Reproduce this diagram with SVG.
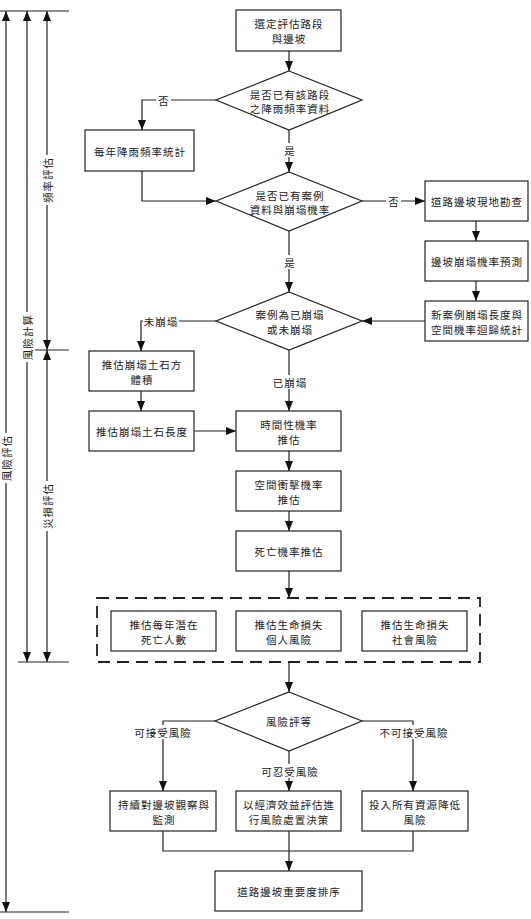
<svg xmlns="http://www.w3.org/2000/svg" width="531" height="919" viewBox="0 0 531 919">
<style>
.b{fill:#fff;stroke:#222;stroke-width:1.2}
.l{fill:none;stroke:#222;stroke-width:1.2}
.a{marker-end:url(#ah)}
.t{font-family:"Noto Sans CJK TC","Noto Sans CJK SC",sans-serif;font-size:10.5px;letter-spacing:1px;fill:#222;text-anchor:middle;dominant-baseline:central}
.bg{fill:#fff}
</style>
<defs>
<marker id="ah" markerUnits="userSpaceOnUse" markerWidth="10" markerHeight="10" viewBox="0 0 10 10" refX="10" refY="5" orient="auto">
<path d="M0,1 L10,5 L0,9 Z" fill="#111"/>
</marker>
</defs>
<rect width="531" height="919" fill="#fff"/>

<g id="scale">
<path class="l" d="M0,11 H69 M35,350 H69 M18,662 H69 M0,912 H69"/>
<path class="l a" d="M6,100 V11"/>
<path class="l a" d="M6,100 V912"/>
<path class="l a" d="M27,100 V11"/>
<path class="l a" d="M27,100 V662"/>
<path class="l a" d="M47,100 V11"/>
<path class="l a" d="M47,100 V350"/>
<path class="l a" d="M47,500 V350"/>
<path class="l a" d="M47,500 V662"/>
<rect class="bg" x="40" y="155" width="14" height="50"/>
<text class="t" transform="translate(47,180) rotate(-90)">頻率評估</text>
<rect class="bg" x="20" y="312" width="14" height="50"/>
<text class="t" transform="translate(27,337) rotate(-90)">風險計算</text>
<rect class="bg" x="0" y="433" width="13" height="50"/>
<text class="t" transform="translate(6,458) rotate(-90)">風險評估</text>
<rect class="bg" x="40" y="481" width="14" height="50"/>
<text class="t" transform="translate(47,506) rotate(-90)">災損評估</text>
</g>

<g id="connectors">
<path class="l a" d="M289,51 V71"/>
<path class="l a" d="M216,100 H142 V130"/>
<path class="l a" d="M289,130 V172"/>
<path class="l a" d="M142,171 V201 H216"/>
<path class="l a" d="M362,201 H425"/>
<path class="l a" d="M476,221 V241"/>
<path class="l a" d="M476,281 V301"/>
<path class="l a" d="M425,321 H362"/>
<path class="l a" d="M289,231 V292"/>
<path class="l a" d="M216,321 H141 V351"/>
<path class="l a" d="M141,391 V411"/>
<path class="l a" d="M194,431 H236"/>
<path class="l a" d="M289,350 V411"/>
<path class="l a" d="M289,451 V471"/>
<path class="l a" d="M289,511 V531"/>
<path class="l a" d="M289,571 V598"/>
<path class="l a" d="M289,662 V692"/>
<path class="l a" d="M215,721 H163 V791"/>
<path class="l a" d="M362,721 H413 V791"/>
<path class="l a" d="M289,751 V791"/>
<path class="l" d="M163,831 V851 H413 V831 M289,831 V851"/>
<path class="l a" d="M289,851 V871"/>
<rect class="bg" x="156" y="93" width="15" height="14"/>
<text class="t" x="164" y="100">否</text>
<rect class="bg" x="282" y="143" width="15" height="14"/>
<text class="t" x="290" y="150">是</text>
<rect class="bg" x="386" y="194" width="15" height="14"/>
<text class="t" x="394" y="201">否</text>
<rect class="bg" x="282" y="255" width="15" height="14"/>
<text class="t" x="290" y="262">是</text>
<rect class="bg" x="143" y="314" width="36" height="14"/>
<text class="t" x="161" y="321">未崩塌</text>
<rect class="bg" x="271" y="375" width="37" height="14"/>
<text class="t" x="290" y="382">已崩塌</text>
<rect class="bg" x="132" y="725" width="62" height="14"/>
<text class="t" x="163" y="732">可接受風險</text>
<rect class="bg" x="258" y="764" width="62" height="14"/>
<text class="t" x="290" y="771">可忍受風險</text>
<rect class="bg" x="376" y="725" width="74" height="14"/>
<text class="t" x="414" y="732">不可接受風險</text>
</g>

<g id="n1"><rect class="b" x="236" y="10" width="105" height="41"/><text class="t" x="289" y="23">選定評估路段</text><text class="t" x="289" y="38">與邊坡</text></g>
<g id="d1"><path class="b" d="M289,71 L362,100 L289,130 L216,100 Z"/><text class="t" x="290" y="94">是否已有該路段</text><text class="t" x="290" y="108">之降雨頻率資料</text></g>
<g id="n2"><rect class="b" x="85" y="130" width="109" height="41"/><text class="t" x="140" y="151">每年降雨頻率統計</text></g>
<g id="d2"><path class="b" d="M289,172 L362,201 L289,231 L216,201 Z"/><text class="t" x="290" y="195">是否已有案例</text><text class="t" x="290" y="209">資料與崩塌機率</text></g>
<g id="n3"><rect class="b" x="425" y="181" width="103" height="40"/><text class="t" x="477" y="201">道路邊坡現地勘查</text></g>
<g id="n4"><rect class="b" x="425" y="241" width="103" height="40"/><text class="t" x="477" y="261">邊坡崩塌機率預測</text></g>
<g id="n5"><rect class="b" x="425" y="301" width="103" height="40"/><text class="t" x="477" y="314">新案例崩塌長度與</text><text class="t" x="477" y="329">空間機率迴歸統計</text></g>
<g id="d3"><path class="b" d="M289,292 L362,321 L289,350 L216,321 Z"/><text class="t" x="290" y="314">案例為已崩塌</text><text class="t" x="290" y="329">或未崩塌</text></g>
<g id="n6"><rect class="b" x="89" y="351" width="105" height="40"/><text class="t" x="142" y="364">推估崩塌土石方</text><text class="t" x="142" y="379">體積</text></g>
<g id="n7"><rect class="b" x="89" y="411" width="105" height="40"/><text class="t" x="142" y="431">推估崩塌土石長度</text></g>
<g id="n8"><rect class="b" x="236" y="411" width="105" height="40"/><text class="t" x="289" y="424">時間性機率</text><text class="t" x="289" y="439">推估</text></g>
<g id="n9"><rect class="b" x="236" y="471" width="105" height="40"/><text class="t" x="289" y="484">空間衝擊機率</text><text class="t" x="289" y="499">推估</text></g>
<g id="n10"><rect class="b" x="236" y="531" width="105" height="40"/><text class="t" x="289" y="551">死亡機率推估</text></g>
<g id="group"><rect x="97" y="598" width="383" height="64" fill="none" stroke="#222" stroke-width="1.8" stroke-dasharray="12,7"/></g>
<g id="n11"><rect class="b" x="111" y="611" width="105" height="40"/><text class="t" x="164" y="624">推估每年潛在</text><text class="t" x="164" y="639">死亡人數</text></g>
<g id="n12"><rect class="b" x="236" y="611" width="105" height="40"/><text class="t" x="289" y="624">推估生命損失</text><text class="t" x="289" y="639">個人風險</text></g>
<g id="n13"><rect class="b" x="362" y="611" width="105" height="40"/><text class="t" x="415" y="624">推估生命損失</text><text class="t" x="415" y="639">社會風險</text></g>
<g id="d4"><path class="b" d="M289,692 L362,721 L289,751 L215,721 Z"/><text class="t" x="289" y="721">風險評等</text></g>
<g id="n14"><rect class="b" x="110" y="791" width="106" height="40"/><text class="t" x="164" y="804">持續對邊坡觀察與</text><text class="t" x="164" y="819">監測</text></g>
<g id="n15"><rect class="b" x="236" y="791" width="105" height="40"/><text class="t" x="289" y="804">以經濟效益評估進</text><text class="t" x="289" y="819">行風險處置決策</text></g>
<g id="n16"><rect class="b" x="362" y="791" width="106" height="40"/><text class="t" x="415" y="804">投入所有資源降低</text><text class="t" x="415" y="819">風險</text></g>
<g id="n17"><rect class="b" x="215" y="871" width="147" height="40"/><text class="t" x="289" y="891">道路邊坡重要度排序</text></g>
</svg>
